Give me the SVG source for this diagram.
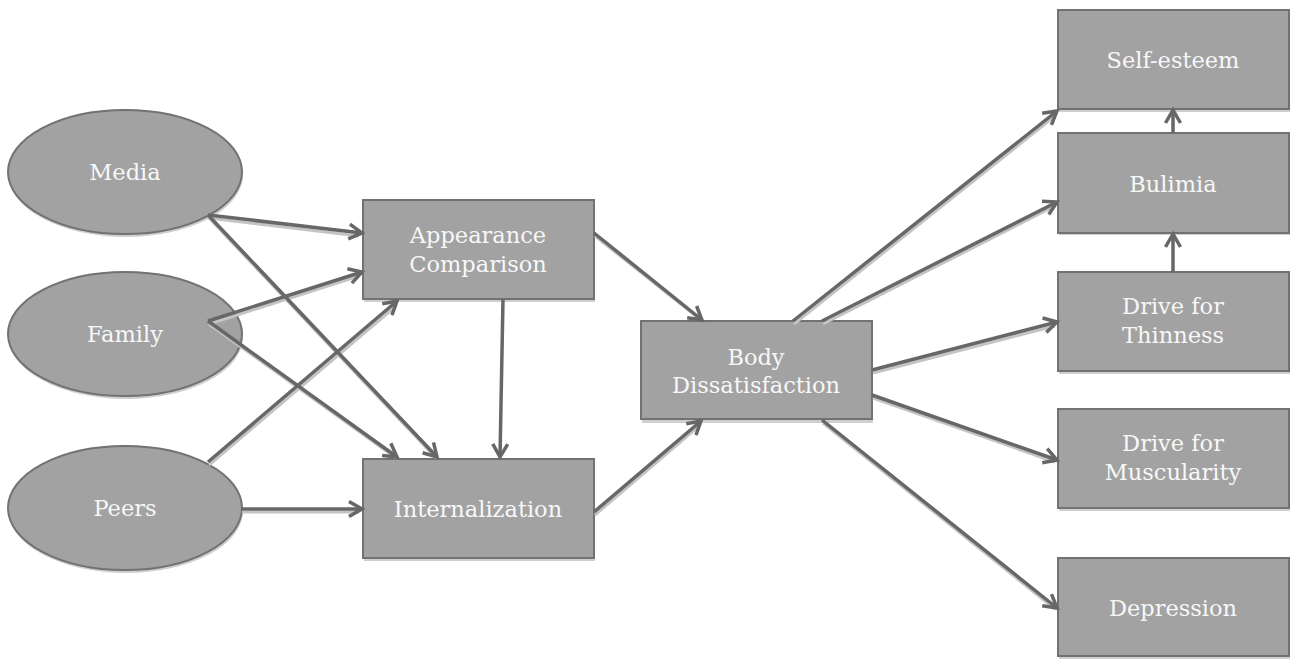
<svg xmlns="http://www.w3.org/2000/svg" width="1291" height="659" viewBox="0 0 1291 659">
<style>
.box{fill:#a2a2a2;stroke:#727272;stroke-width:2}
.sh{fill:#cfcfcf;stroke:none}
.lbl{font-family:"DejaVu Serif","Liberation Serif",serif;font-size:22.5px;fill:#f7f7f7;text-anchor:middle}
.con{stroke:#676767;stroke-width:3.5;fill:none;marker-end:url(#ah)}
.consh{stroke:#c4c4c4;stroke-width:3;fill:none}
</style>
<defs>
<marker id="ah" viewBox="0 0 20 20" markerWidth="20" markerHeight="20" refX="16" refY="10" orient="auto" markerUnits="userSpaceOnUse">
<path d="M3,2.5 L16,10 L3,17.5" fill="none" stroke="#676767" stroke-width="3.5" stroke-linejoin="miter"/>
</marker>
</defs>
<rect width="1291" height="659" fill="#ffffff"/>

<g id="media">
<ellipse class="sh" cx="126" cy="175" rx="117" ry="62"/>
<ellipse class="box" cx="125" cy="172" rx="117" ry="62"/>
<text class="lbl" x="125" y="180">Media</text>
</g>
<g id="family">
<ellipse class="sh" cx="126" cy="337" rx="117" ry="62"/>
<ellipse class="box" cx="125" cy="334" rx="117" ry="62"/>
<text class="lbl" x="125" y="342">Family</text>
</g>
<g id="peers">
<ellipse class="sh" cx="126" cy="511" rx="117" ry="62"/>
<ellipse class="box" cx="125" cy="508" rx="117" ry="62"/>
<text class="lbl" x="125" y="516">Peers</text>
</g>

<g id="appearance">
<rect class="sh" x="364" y="202" width="231" height="100"/>
<rect class="box" x="363" y="200" width="231" height="99"/>
<text class="lbl" x="478" y="243">Appearance</text>
<text class="lbl" x="478" y="272">Comparison</text>
</g>
<g id="internalization">
<rect class="sh" x="364" y="461" width="231" height="100"/>
<rect class="box" x="363" y="459" width="231" height="99"/>
<text class="lbl" x="478" y="517">Internalization</text>
</g>
<g id="body">
<rect class="sh" x="642" y="323" width="231" height="100"/>
<rect class="box" x="641" y="321" width="231" height="98"/>
<text class="lbl" x="756" y="365">Body</text>
<text class="lbl" x="756" y="393">Dissatisfaction</text>
</g>
<g id="selfesteem">
<rect class="sh" x="1059" y="12" width="231" height="100"/>
<rect class="box" x="1058" y="10" width="231" height="99"/>
<text class="lbl" x="1173" y="68">Self-esteem</text>
</g>
<g id="bulimia">
<rect class="sh" x="1059" y="135" width="231" height="100"/>
<rect class="box" x="1058" y="133" width="231" height="100"/>
<text class="lbl" x="1173" y="192">Bulimia</text>
</g>
<g id="thinness">
<rect class="sh" x="1059" y="274" width="231" height="100"/>
<rect class="box" x="1058" y="272" width="231" height="99"/>
<text class="lbl" x="1173" y="314">Drive for</text>
<text class="lbl" x="1173" y="343">Thinness</text>
</g>
<g id="muscularity">
<rect class="sh" x="1059" y="411" width="231" height="100"/>
<rect class="box" x="1058" y="409" width="231" height="99"/>
<text class="lbl" x="1173" y="451">Drive for</text>
<text class="lbl" x="1173" y="480">Muscularity</text>
</g>
<g id="depression">
<rect class="sh" x="1059" y="560" width="231" height="99"/>
<rect class="box" x="1058" y="558" width="231" height="98"/>
<text class="lbl" x="1173" y="616">Depression</text>
</g>

<g id="connectors">
<g transform="translate(1,3)">
<path class="consh" d="M208,215 L358,233"/>
<path class="consh" d="M208,215 L435,455"/>
<path class="consh" d="M208,321 L358,273"/>
<path class="consh" d="M208,321 L395,455"/>
<path class="consh" d="M208,462 L395,303"/>
<path class="consh" d="M241,509 L358,509"/>
<path class="consh" d="M594,233 L700,317"/>
<path class="consh" d="M594,512 L698,423"/>
<path class="consh" d="M793,321 L1054,113"/>
<path class="consh" d="M822,321 L1054,203"/>
<path class="consh" d="M872,370 L1054,323"/>
<path class="consh" d="M872,395 L1054,459"/>
<path class="consh" d="M822,420 L1054,606"/>
</g>
<path class="con" d="M208,215 L362,233"/>
<path class="con" d="M208,215 L437,457"/>
<path class="con" d="M208,321 L362,272"/>
<path class="con" d="M208,321 L397,457"/>
<path class="con" d="M208,462 L397,301"/>
<path class="con" d="M241,509 L362,509"/>
<path class="con" d="M503,299 L500,457"/>
<path class="con" d="M594,233 L702,320"/>
<path class="con" d="M594,512 L701,421"/>
<path class="con" d="M793,321 L1057,111"/>
<path class="con" d="M822,321 L1057,202"/>
<path class="con" d="M872,370 L1057,322"/>
<path class="con" d="M872,395 L1057,460"/>
<path class="con" d="M822,420 L1057,608"/>
<path class="con" d="M1173,133 L1173,110"/>
<path class="con" d="M1173,272 L1173,234"/>
</g>
</svg>
